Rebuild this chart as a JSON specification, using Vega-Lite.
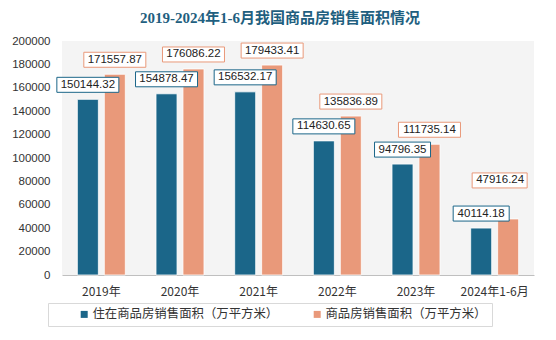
{
  "$schema": "https://vega.github.io/schema/vega-lite/v6.json",
  "width": 472,
  "height": 234,
  "autosize": {"type": "none"},
  "padding": {"left": 62, "top": 41, "right": 22, "bottom": 65},
  "background": "white",
  "title": {
    "text": "2019-2024年1-6月我国商品房销售面积情况",
    "font": "Liberation Serif, Noto Sans CJK SC",
    "fontSize": 15,
    "fontWeight": "bold",
    "color": "#1f5f80",
    "anchor": "middle",
    "dx": -18,
    "offset": 9
  },
  "config": {
    "view": {"fill": "#f4f4f4", "stroke": null}
  },
  "data": {
    "values": [
      {"year": "2019年", "series": "住在商品房销售面积（万平方米）", "value": 150144.32},
      {"year": "2019年", "series": "商品房销售面积（万平方米）", "value": 171557.87},
      {"year": "2020年", "series": "住在商品房销售面积（万平方米）", "value": 154878.47},
      {"year": "2020年", "series": "商品房销售面积（万平方米）", "value": 176086.22},
      {"year": "2021年", "series": "住在商品房销售面积（万平方米）", "value": 156532.17},
      {"year": "2021年", "series": "商品房销售面积（万平方米）", "value": 179433.41},
      {"year": "2022年", "series": "住在商品房销售面积（万平方米）", "value": 114630.65},
      {"year": "2022年", "series": "商品房销售面积（万平方米）", "value": 135836.89},
      {"year": "2023年", "series": "住在商品房销售面积（万平方米）", "value": 94796.35},
      {"year": "2023年", "series": "商品房销售面积（万平方米）", "value": 111735.14},
      {"year": "2024年1-6月", "series": "住在商品房销售面积（万平方米）", "value": 40114.18},
      {"year": "2024年1-6月", "series": "商品房销售面积（万平方米）", "value": 47916.24}
    ]
  },
  "encoding": {
    "x": {
      "field": "year",
      "type": "nominal",
      "sort": null,
      "scale": {"paddingInner": 0.39, "paddingOuter": 0.195},
      "axis": {
        "title": null,
        "labelAngle": 0,
        "ticks": false,
        "domainColor": "#bfbfbf",
        "labelFont": "Noto Sans CJK SC",
        "labelFontSize": 12,
        "labelColor": "#333333",
        "labelPadding": 11
      }
    },
    "xOffset": {
      "field": "series",
      "type": "nominal",
      "sort": ["住在商品房销售面积（万平方米）", "商品房销售面积（万平方米）"],
      "scale": {"paddingInner": 0.22}
    },
    "y": {
      "field": "value",
      "type": "quantitative",
      "scale": {"domain": [0, 200000], "nice": false},
      "axis": {
        "title": null,
        "grid": false,
        "domain": false,
        "ticks": false,
        "values": [0, 20000, 40000, 60000, 80000, 100000, 120000, 140000, 160000, 180000, 200000],
        "labelOverlap": false,
        "format": "d",
        "labelFont": "Liberation Sans",
        "labelFontSize": 11.5,
        "labelColor": "#333333",
        "labelPadding": 12
      }
    }
  },
  "layer": [
    {
      "mark": {"type": "bar", "stroke": "white", "strokeWidth": 0.8},
      "encoding": {
        "color": {
          "field": "series",
          "type": "nominal",
          "sort": ["住在商品房销售面积（万平方米）", "商品房销售面积（万平方米）"],
          "scale": {
            "domain": ["住在商品房销售面积（万平方米）", "商品房销售面积（万平方米）"],
            "range": ["#1b6689", "#e9997a"]
          },
          "legend": {
            "title": null,
            "orient": "none",
            "direction": "horizontal",
            "legendX": -14,
            "legendY": 262,
            "padding": 5,
            "strokeColor": "#d9d9d9",
            "fillColor": "white",
            "symbolType": "square",
            "symbolSize": 49,
            "symbolStrokeWidth": 0,
            "symbolOffset": 25,
            "labelOffset": 2,
            "columnPadding": 7,
            "labelFont": "Noto Sans CJK SC",
            "labelFontSize": 12.4,
            "labelColor": "#333333",
            "labelLimit": 300,
            "labelExpr": "datum.label == '商品房销售面积（万平方米）' ? datum.label + '　　' : datum.label"
          }
        }
      }
    },
    {
      "transform": [{"filter": "!(datum.year == '2024年1-6月' && datum.series == '商品房销售面积（万平方米）')"}],
      "mark": {"type": "point", "filled": true, "fill": "white", "opacity": 1, "strokeWidth": 1},
      "encoding": {
        "shape": {
          "condition": {"test": "datum.value < 100000", "value": "M-1,-0.786L1,-0.786L1,-0.25L-1,-0.25Z"},
          "value": "M-1,-0.71L1,-0.71L1,-0.226L-1,-0.226Z"
        },
        "size": {
          "condition": {"test": "datum.value < 100000", "value": 3136},
          "value": 3844
        },
        "stroke": {
          "field": "series",
          "type": "nominal",
          "scale": {
            "domain": ["住在商品房销售面积（万平方米）", "商品房销售面积（万平方米）"],
            "range": ["#1b6689", "#e9997a"]
          },
          "legend": null
        }
      }
    },
    {
      "transform": [{"filter": "!(datum.year == '2024年1-6月' && datum.series == '商品房销售面积（万平方米）')"}],
      "mark": {
        "type": "text",
        "baseline": "middle",
        "align": "center",
        "dy": -14.5,
        "font": "Liberation Sans",
        "fontSize": 11.5,
        "color": "#222222"
      },
      "encoding": {
        "text": {"field": "value", "type": "quantitative", "format": ".2f"}
      }
    },
    {
      "transform": [{"filter": "datum.year == '2024年1-6月' && datum.series == '商品房销售面积（万平方米）'"}],
      "mark": {"type": "point", "filled": true, "fill": "white", "opacity": 1, "strokeWidth": 1, "stroke": "#e9997a", "shape": "M-1.309,-1.673L0.691,-1.673L0.691,-1.127L-1.309,-1.127Z", "size": 3025}
    },
    {
      "transform": [{"filter": "datum.year == '2024年1-6月' && datum.series == '商品房销售面积（万平方米）'"}],
      "mark": {
        "type": "text",
        "baseline": "middle",
        "align": "center",
        "dx": -8,
        "dy": -38.5,
        "font": "Liberation Sans",
        "fontSize": 11.5,
        "color": "#222222"
      },
      "encoding": {
        "text": {"field": "value", "type": "quantitative", "format": ".2f"}
      }
    }
  ]
}
